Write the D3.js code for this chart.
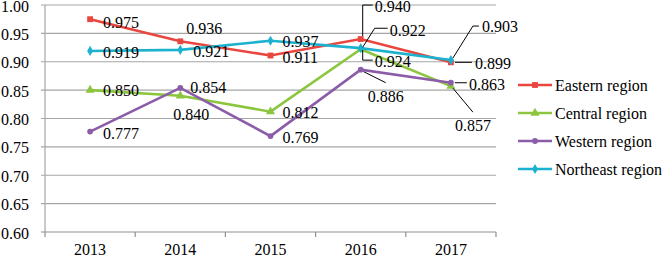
<html>
<head>
<style>
  body { margin: 0; background: #fff; }
</style>
</head>
<body>
<svg id="chart" width="664" height="256" style="font-family: 'Liberation Serif', 'DejaVu Serif', serif;"></svg>
<script src="https://d3js.org/d3.v7.min.js"></script>
<script>

// data
var years = ["2013", "2014", "2015", "2016", "2017"]
var yTicks = [0.60, 0.65, 0.70, 0.75, 0.80, 0.85, 0.90, 0.95, 1.00]

var eastern   = [0.975, 0.936, 0.911, 0.940, 0.899]
var central   = [0.850, 0.840, 0.812, 0.922, 0.857]
var western   = [0.777, 0.854, 0.769, 0.886, 0.863]
var northeast = [0.919, 0.921, 0.937, 0.924, 0.903]

var seriesNames = ["Eastern region", "Central region", "Western region", "Northeast region"]

// label placement (offsets from the point), with leader lines where the original has them
var labelPos = [
  [ {dx:13, dy:3}, {dx:6, dy:-13}, {dx:12, dy:2}, {dx:14, dy:-33, lead:[[2,-3],[2,-34],[12,-34]]}, {dx:24, dy:1, lead:[[4,0],[21,0]]} ],
  [ {dx:13, dy:0}, {dx:-7, dy:19}, {dx:12, dy:1}, {dx:29, dy:-19, lead:[[2,-2],[14,-21],[27,-21]]}, {dx:4, dy:39, lead:[[2,2],[22,26]]} ],
  [ {dx:13, dy:2}, {dx:10, dy:0}, {dx:12, dy:1}, {dx:7, dy:27, lead:[[3,2],[25,13]]}, {dx:18, dy:2, lead:[[4,0],[16,0]]} ],
  [ {dx:13, dy:1}, {dx:13, dy:2}, {dx:12, dy:1}, {dx:14, dy:13, lead:[[2,2],[2,12],[12,12]]}, {dx:31, dy:-34, lead:[[2,-2],[22,-34],[28,-34]]} ]
]

var colours = ["#e8463f", "#8cc63e", "#8b5ca8", "#1cb2cf"]
var symbols = [d3.symbolSquare, d3.symbolTriangle, d3.symbolCircle, d3.symbolDiamond]
var symSize = [34, 36, 26, 30]

var allSeries = [eastern, central, western, northeast]
var FONT = "'Liberation Serif', 'DejaVu Serif', serif"

var svg = d3.select("#chart")

var x = d3.scaleBand()
  .domain(years)
  .range([45, 496])
  .paddingInner(0).paddingOuter(0)

var y = d3.scaleLinear()
  .domain([0.6, 1.0])
  .range([232, 5])

function cx(i) { return x(years[i]) + x.bandwidth() / 2 }

// gridlines
svg.append("g")
  .selectAll("line")
  .data(yTicks.slice(1))
  .enter().append("line")
    .attr("x1", 41).attr("x2", 496)
    .attr("y1", d => y(d)).attr("y2", d => y(d))
    .attr("stroke", "#a6a6a6")
    .attr("stroke-width", 1.2)

// y axis line
svg.append("line")
  .attr("x1", 45).attr("x2", 45)
  .attr("y1", y(1.0)).attr("y2", y(0.6))
  .attr("stroke", "#a6a6a6").attr("stroke-width", 1.2)

// x axis line + ticks at band boundaries
svg.append("line")
  .attr("x1", 41).attr("x2", 496)
  .attr("y1", y(0.6)).attr("y2", y(0.6))
  .attr("stroke", "#909090").attr("stroke-width", 1.2)

var bounds = years.map(d => x(d)).concat([x(years[years.length - 1]) + x.bandwidth()])
svg.append("g")
  .selectAll("line")
  .data(bounds)
  .enter().append("line")
    .attr("x1", d => d).attr("x2", d => d)
    .attr("y1", y(0.6)).attr("y2", y(0.6) + 5)
    .attr("stroke", "#909090").attr("stroke-width", 1.2)

// y labels
svg.append("g")
  .selectAll("text")
  .data(yTicks)
  .enter().append("text")
    .attr("x", 29)
    .attr("y", d => y(d) + 1)
    .attr("dy", "0.35em")
    .attr("text-anchor", "end")
    .style("font-family", FONT)
    .style("font-size", "16px")
    .text(d => d.toFixed(2))

// x labels
svg.append("g")
  .selectAll("text")
  .data(years)
  .enter().append("text")
    .attr("x", d => x(d) + x.bandwidth() / 2)
    .attr("y", 255)
    .attr("text-anchor", "middle")
    .style("font-family", FONT)
    .style("font-size", "16px")
    .text(d => d)

var line = d3.line()
  .x((d, i) => cx(i))
  .y(d => y(d))

allSeries.forEach(function(vals, s) {
  svg.append("path")
    .attr("d", line(vals))
    .attr("fill", "none")
    .attr("stroke", colours[s])
    .attr("stroke-width", 2.6)

  svg.append("g")
    .selectAll("path")
    .data(vals)
    .enter().append("path")
      .attr("d", d3.symbol().type(symbols[s]).size(symSize[s]))
      .attr("transform", (d, i) => "translate(" + cx(i) + "," + y(d) + ")")
      .attr("fill", colours[s])
})

// data labels and leader lines
allSeries.forEach(function(vals, s) {
  vals.forEach(function(v, i) {
    var p = labelPos[s][i]
    var px = cx(i), py = y(v)
    if (p.lead) {
      svg.append("path")
        .attr("d", d3.line()(p.lead.map(q => [px + q[0], py + q[1]])))
        .attr("fill", "none")
        .attr("stroke", "#000")
        .attr("stroke-width", 1)
    }
    svg.append("text")
      .attr("x", px + p.dx)
      .attr("y", py + p.dy)
      .attr("dy", "0.35em")
      .style("font-family", FONT)
      .style("font-size", "16px")
      .text(v.toFixed(3))
  })
})

// legend
var legend = svg.append("g")
  .selectAll("g")
  .data(seriesNames)
  .enter().append("g")
    .attr("transform", (d, i) => "translate(518," + (85 + i * 28) + ")")

legend.append("line")
  .attr("x1", 0).attr("x2", 34)
  .attr("stroke", (d, i) => colours[i])
  .attr("stroke-width", 2.6)

legend.append("path")
  .attr("d", (d, i) => d3.symbol().type(symbols[i]).size(symSize[i])())
  .attr("transform", "translate(17,0)")
  .attr("fill", (d, i) => colours[i])

legend.append("text")
  .attr("x", 37)
  .attr("dy", "0.35em")
  .style("font-family", FONT)
  .style("font-size", "16px")
  .text(d => d)

</script>
</body>
</html>
